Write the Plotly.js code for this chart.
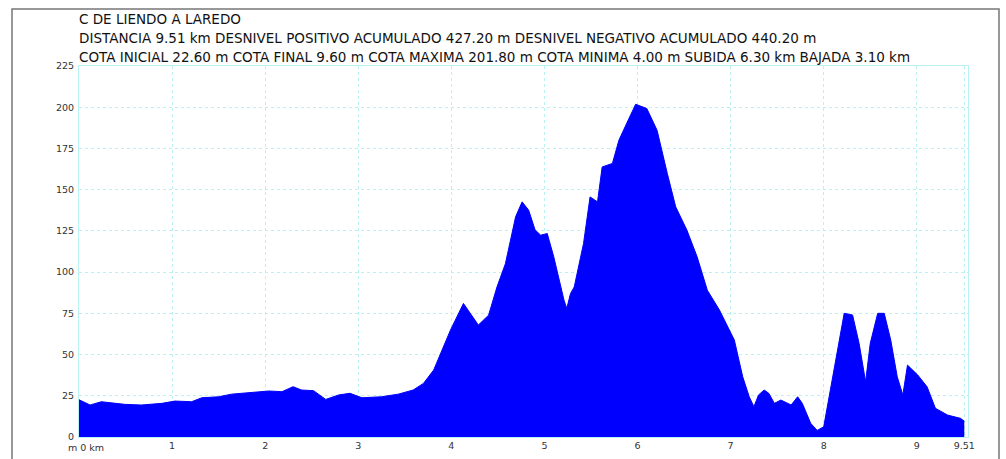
<!DOCTYPE html>
<html>
<head>
<meta charset="utf-8">
<script src="https://cdn.plot.ly/plotly-3.0.1.min.js"></script>
<style>
  html, body { margin: 0; padding: 0; background: #ffffff; }
  #chart { width: 1006px; height: 459px; }
</style>
</head>
<body>
<div id="chart"></div>
<script>
// Distance along the route (km)
const distanceKm = [
  0.00, 0.12, 0.24, 0.35, 0.49, 0.67, 0.89, 1.03, 1.21, 1.32, 1.50, 1.64, 1.86, 2.04, 2.18, 2.30, 2.39, 2.52, 2.65, 2.79, 2.91, 3.04, 3.25, 3.43,
  3.59, 3.70, 3.81, 3.99, 4.13, 4.29, 4.40, 4.49, 4.58, 4.69, 4.76, 4.83, 4.90, 4.96, 5.03, 5.10, 5.21, 5.24, 5.28, 5.32, 5.42, 5.49, 5.57,
  5.62, 5.73, 5.80, 5.89, 5.98, 6.10, 6.21, 6.32, 6.41, 6.53, 6.64, 6.75, 6.88, 7.04, 7.13, 7.20, 7.25, 7.30, 7.36, 7.41, 7.47, 7.54, 7.65,
  7.72, 7.77, 7.86, 7.93, 8.00, 8.08, 8.15, 8.22, 8.31, 8.38, 8.45, 8.50, 8.58, 8.65, 8.72, 8.79, 8.85, 8.90, 9.01, 9.11, 9.20, 9.33, 9.47, 9.51
];
// Elevation (m)
const elevationM = [
  22.6, 19.4, 21.4, 20.6, 19.8, 19.4, 20.4, 21.8, 21.4, 23.8, 24.4, 26.0, 26.8, 27.9, 27.5, 30.5, 28.5, 28.1, 22.8, 25.5, 26.5, 23.8, 24.4, 26.0,
  28.5, 32.5, 40.6, 64.8, 81.0, 67.9, 73.9, 91.0, 105.0, 133.5, 142.6, 137.6, 125.5, 122.4, 123.4, 109.3, 83.0, 78.0, 87.0, 91.0, 117.4, 145.6, 142.6,
  163.8, 165.9, 180.0, 191.0, 201.8, 199.2, 186.0, 159.8, 139.6, 125.5, 109.3, 89.0, 77.0, 58.8, 36.5, 24.4, 18.4, 25.5, 28.5, 26.5, 20.4, 22.4, 19.4,
  24.4, 20.4, 8.3, 4.0, 6.2, 30.5, 52.7, 75.0, 74.0, 56.8, 33.5, 56.8, 75.0, 75.0, 58.8, 36.5, 25.5, 43.6, 37.6, 30.5, 17.4, 13.3, 11.3, 9.6
];
const xTickVals = [1, 2, 3, 4, 5, 6, 7, 8, 9, 9.51];
const xTickText = ['1', '2', '3', '4', '5', '6', '7', '8', '9', '9.51'];
const yTickVals = [0, 25, 50, 75, 100, 125, 150, 175, 200, 225];

const titleLines = [
  'C DE LIENDO A LAREDO',
  'DISTANCIA 9.51 km DESNIVEL POSITIVO ACUMULADO 427.20 m DESNIVEL NEGATIVO ACUMULADO 440.20 m',
  'COTA INICIAL 22.60 m COTA FINAL 9.60 m COTA MAXIMA 201.80 m COTA MINIMA 4.00 m SUBIDA 6.30 km BAJADA 3.10 km'
];

const W = 1006, H = 459;
const L = 79, R = 968, T = 66, B = 437;
const pw = R - L, ph = B - T;
const px = v => (v - L) / pw;
const py = v => (B - v) / ph;

const trace = {
  x: distanceKm,
  y: elevationM,
  type: 'scatter',
  mode: 'lines',
  fill: 'tozeroy',
  fillcolor: '#0000ff',
  line: { color: '#0000ff', width: 1 },
  hoverinfo: 'x+y'
};

const gridColor = '#b8f2f2';
const titleFam = '"DejaVu Sans", Verdana, sans-serif';
const tickFam = '"DejaVu Sans", Verdana, sans-serif';

const annotations = titleLines.map((t, i) => ({
  text: t,
  xref: 'paper', yref: 'paper',
  x: px(77), y: py([19, 38, 57][i]),
  xanchor: 'left', yanchor: 'middle',
  showarrow: false,
  font: { family: titleFam, size: 13.5, color: '#111111' }
}));
annotations.push({
  text: 'm 0 km',
  xref: 'paper', yref: 'paper',
  x: px(66), y: py(447),
  xanchor: 'left', yanchor: 'middle',
  showarrow: false,
  font: { family: tickFam, size: 9.5, color: '#333333' }
});

const layout = {
  width: W, height: H,
  margin: { l: L, r: W - R, t: T, b: H - B, pad: 0 },
  paper_bgcolor: '#ffffff',
  plot_bgcolor: '#ffffff',
  showlegend: false,
  font: { family: tickFam, size: 9.5, color: '#333333' },
  xaxis: {
    range: [0, 9.55],
    tickmode: 'array',
    tickvals: xTickVals,
    ticktext: xTickText,
    showgrid: true,
    gridcolor: gridColor,
    griddash: 'dot',
    gridwidth: 1,
    zeroline: false,
    showline: true,
    linecolor: gridColor,
    linewidth: 1,
    mirror: true,
    ticks: '',
    tickfont: { family: tickFam, size: 9.5, color: '#333333' },
    fixedrange: true
  },
  yaxis: {
    range: [0, 225],
    tickmode: 'array',
    tickvals: yTickVals,
    showgrid: true,
    gridcolor: gridColor,
    griddash: 'dot',
    gridwidth: 1,
    zeroline: false,
    showline: true,
    linecolor: gridColor,
    linewidth: 1,
    mirror: true,
    ticks: '',
    ticklabelstandoff: 2,
    tickfont: { family: tickFam, size: 9.5, color: '#333333' },
    fixedrange: true
  },
  annotations: annotations,
  shapes: [
    {
      type: 'rect', xref: 'paper', yref: 'paper',
      x0: px(12), x1: px(999), y0: py(470), y1: py(9),
      line: { color: '#777777', width: 1.5 },
      fillcolor: 'rgba(0,0,0,0)',
      layer: 'above'
    }
  ]
};

Plotly.newPlot('chart', [trace], layout, { displayModeBar: false, staticPlot: true });
</script>
</body>
</html>
